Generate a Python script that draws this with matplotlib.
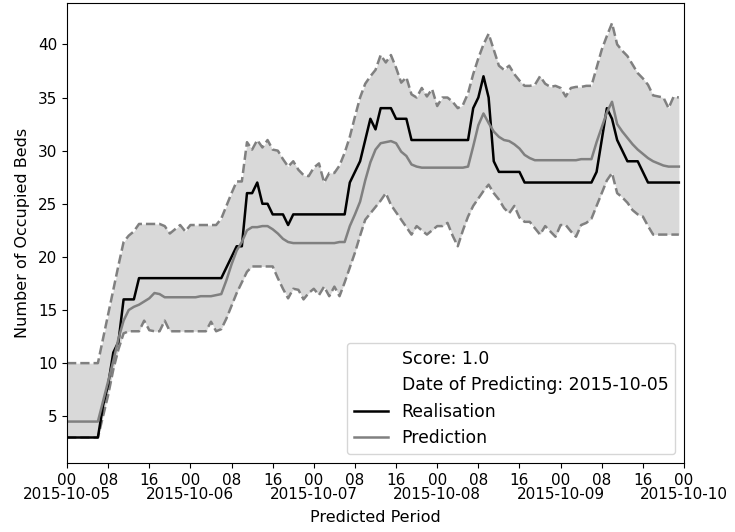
import matplotlib
matplotlib.use("Agg")
import matplotlib.pyplot as plt
import matplotlib.dates as mdates
import pandas as pd

# hourly values, one row per day (2015-10-05 .. 2015-10-09)
realisation = [
    3, 3, 3, 3, 3, 3, 3, 6, 8, 11, 12, 16, 16, 16, 18, 18, 18, 18, 18, 18, 18, 18, 18, 18,
    18, 18, 18, 18, 18, 18, 18, 19, 20, 21, 21, 26, 26, 27, 25, 25, 24, 24, 24, 23, 24, 24, 24, 24,
    24, 24, 24, 24, 24, 24, 24, 27, 28, 29, 31, 33, 32, 34, 34, 34, 33, 33, 33, 31, 31, 31, 31, 31,
    31, 31, 31, 31, 31, 31, 31, 34, 35, 37, 35, 29, 28, 28, 28, 28, 28, 27, 27, 27, 27, 27, 27, 27,
    27, 27, 27, 27, 27, 27, 27, 28, 31, 34, 33, 31, 30, 29, 29, 29, 28, 27, 27, 27, 27, 27, 27, 27,
]
prediction = [
    4.5, 4.5, 4.5, 4.5, 4.5, 4.5, 4.5, 6.4, 8.3, 10.2, 12.3, 14.0, 15.0, 15.3, 15.5, 15.8, 16.1, 16.6, 16.5, 16.2, 16.2, 16.2, 16.2, 16.2,
    16.2, 16.2, 16.3, 16.3, 16.3, 16.4, 16.5, 17.8, 19.3, 20.6, 21.4, 22.5, 22.8, 22.8, 22.9, 22.9, 22.6, 22.2, 21.7, 21.4, 21.3, 21.3, 21.3, 21.3,
    21.3, 21.3, 21.3, 21.3, 21.3, 21.4, 21.4, 22.9, 24.0, 25.2, 27.2, 28.9, 30.1, 30.7, 30.8, 30.9, 30.7, 29.9, 29.5, 28.7, 28.5, 28.4, 28.4, 28.4,
    28.4, 28.4, 28.4, 28.4, 28.4, 28.4, 28.5, 30.4, 32.4, 33.5, 32.6, 31.8, 31.3, 31.0, 30.9, 30.6, 30.2, 29.6, 29.3, 29.1, 29.1, 29.1, 29.1, 29.1,
    29.1, 29.1, 29.1, 29.1, 29.2, 29.2, 29.2, 30.8, 32.2, 33.6, 34.6, 32.5, 31.8, 31.2, 30.6, 30.1, 29.7, 29.3, 29.0, 28.8, 28.6, 28.5, 28.5, 28.5,
]
upper = [
    10, 10, 10, 10, 10, 10, 10, 12.3, 14.6, 16.9, 19.2, 21.4, 22.0, 22.4, 23.1, 23.1, 23.1, 23.1, 23.1, 22.9, 22.2, 22.6, 23.0, 22.4,
    23.0, 23.0, 23.0, 23.0, 23.0, 23.0, 23.6, 24.8, 26.0, 27.1, 27.1, 30.8, 30.1, 31.0, 30.3, 31.0, 30.1, 30.0, 29.2, 28.5, 29.0, 28.2, 27.7, 27.6,
    28.4, 28.8, 27.0, 27.9, 27.9, 28.6, 29.8, 31.3, 33.2, 35.0, 36.3, 37.0, 37.6, 39.0, 38.3, 39.0, 37.8, 36.4, 36.9, 35.3, 35.0, 35.9, 35.1, 35.8,
    34.2, 35.0, 35.0, 34.6, 34.0, 34.3, 35.4, 37.2, 38.7, 40.0, 41.0, 39.5, 38.0, 37.6, 38.0, 37.2, 36.6, 36.1, 36.1, 36.2, 37.0, 36.3, 36.0, 36.1,
    35.9, 35.1, 35.9, 36.0, 36.0, 36.1, 36.1, 37.8, 39.5, 40.8, 42.0, 40.0, 39.4, 38.9, 38.1, 37.3, 36.8, 36.2, 35.2, 35.1, 35.0, 34.0, 35.1, 35.0,
]
lower = [
    3, 3, 3, 3, 3, 3, 3, 5.0, 7.0, 9.4, 11.3, 12.8, 13.0, 13.0, 13.0, 14.0, 13.1, 13.0, 13.0, 14.0, 13.0, 13.0, 13.0, 13.0,
    13.0, 13.0, 13.0, 13.0, 13.9, 13.0, 13.2, 14.2, 15.4, 16.6, 17.6, 18.6, 19.1, 19.1, 19.1, 19.1, 19.1, 18.0, 17.0, 16.1, 17.0, 16.9, 16.0, 16.6,
    17.0, 16.4, 17.2, 16.3, 17.2, 16.3, 17.6, 19.0, 20.4, 22.0, 23.5, 24.1, 24.7, 25.3, 26.0, 24.9, 24.2, 23.5, 22.8, 22.1, 22.9, 22.5, 22.1, 22.5,
    22.9, 22.9, 23.2, 22.0, 21.0, 22.5, 23.8, 24.8, 25.5, 26.2, 26.8, 26.0, 25.4, 24.6, 24.1, 24.8, 23.7, 23.3, 23.3, 22.7, 22.1, 22.9, 22.4, 21.9,
    23.0, 23.0, 22.4, 21.9, 23.0, 23.2, 23.6, 24.8, 26.0, 27.2, 27.9, 26.0, 25.6, 25.1, 24.4, 24.0, 23.8, 22.9, 22.1, 22.1, 22.1, 22.1, 22.1, 22.1,
]
score = 1.0
predict_date = "2015-10-05"

times = pd.date_range("2015-10-05 00:00", periods=len(realisation), freq="h")

plt.rcParams["font.size"] = 11

fig = plt.figure(figsize=(7.35, 5.32), dpi=100)
ax = fig.add_axes([0.0912, 0.1297, 0.8394, 0.8647])

ax.fill_between(times, lower, upper, color="#d9d9d9", linewidth=0)
ax.plot(times, upper, "--", color="grey", lw=1.8)
ax.plot(times, lower, "--", color="grey", lw=1.8)
ax.plot([], [], " ", label="Score: %s" % score)
ax.plot([], [], " ", label="Date of Predicting: %s" % predict_date)
ax.plot(times, realisation, color="black", lw=1.8, label="Realisation")
ax.plot(times, prediction, color="grey", lw=1.8, label="Prediction")

# hours on the major ticks, the date on a second row under each midnight
ax.xaxis.set_major_locator(mdates.HourLocator(byhour=[0, 8, 16]))
ax.xaxis.set_major_formatter(mdates.DateFormatter("%H"))
ax.xaxis.set_minor_locator(mdates.DayLocator())
ax.xaxis.set_minor_formatter(mdates.DateFormatter("%Y-%m-%d"))
ax.xaxis.remove_overlapping_locs = False
ax.tick_params(axis="both", which="major", labelsize=11)
ax.tick_params(axis="x", which="minor", length=0, pad=17, labelsize=11)
ax.set_xlim(pd.Timestamp("2015-10-05"), pd.Timestamp("2015-10-10"))
ax.set_ylim(0.6, 43.9)

ax.set_xlabel("Predicted Period", fontsize=11.5, labelpad=6)
ax.set_ylabel("Number of Occupied Beds", fontsize=11.5, labelpad=6)
ax.legend(loc="lower right", fontsize=12.4, borderaxespad=0.5)

fig.savefig("out.png", dpi=100)
